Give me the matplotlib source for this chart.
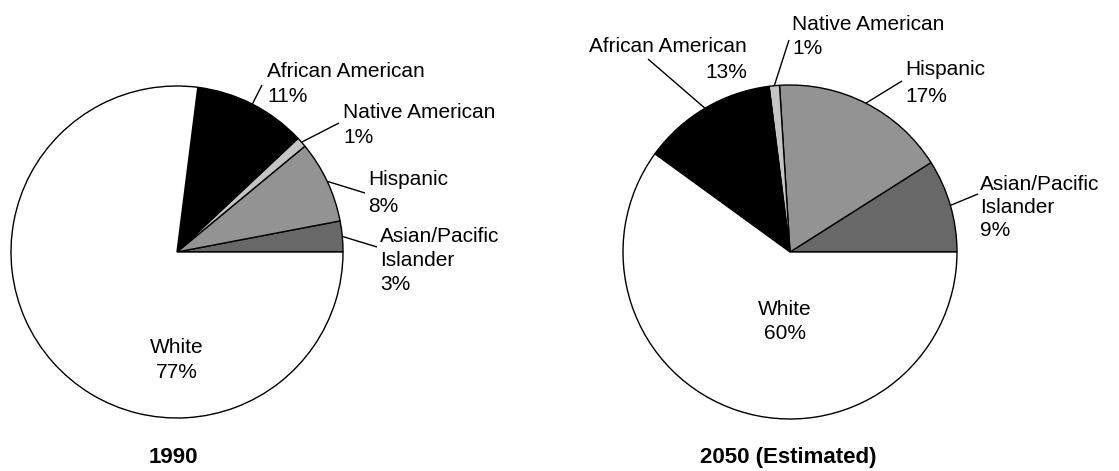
import numpy as np
import matplotlib
matplotlib.use("Agg")
import matplotlib.pyplot as plt

# ---------------- data ----------------
groups = ["Asian/Pacific\nIslander", "Hispanic", "Native American", "African American", "White"]
share_1990 = [3, 8, 1, 11, 77]
share_2050 = [9, 17, 1, 13, 60]
titles = ["1990", "2050 (Estimated)"]
colors = ["#686868", "#939393", "#c4c4c4", "#000000", "#ffffff"]

# ---------------- layout (pixel space, y down) ----------------
W, H = 1119, 471
fig = plt.figure(figsize=(W / 100, H / 100), dpi=100)
ax = fig.add_axes([0, 0, 1, 1])

def Y(py):
    return H - py

LABEL_FONT = dict(family="Liberation Sans", size=15)
TITLE_FONT = dict(family="Liberation Sans", size=16, weight="bold")
CAP = 15  # cap height in px

pies = [
    dict(values=share_1990, center=(177, 252), radius=166, title=titles[0], title_x=173,
         labels=[
             # (x, first cap top, pitch, ha, leader end)
             dict(x=380, top=227, pitch=24, ha="left", end=(377, 247)),
             dict(x=368, top=170, pitch=27, ha="left", end=(365, 193)),
             dict(x=343, top=103, pitch=25, ha="left", end=(339, 123)),
             dict(x=267, top=62, pitch=25, ha="left", end=(262, 85)),
             dict(x=177, top=338, pitch=25, ha="center", end=None),
         ]),
    dict(values=share_2050, center=(790, 252), radius=167, title=titles[1], title_x=788,
         labels=[
             dict(x=980, top=175, pitch=23, ha="left", end=(978, 194)),
             dict(x=905, top=60, pitch=27, ha="left", end=(902, 81)),
             dict(x=792, top=15, pitch=24, ha="left", end=(789, 40)),
             dict(x=747, top=37, pitch=26, ha="right", end=(648, 59)),
             dict(x=785, top=300, pitch=24, ha="center", end=None),
         ]),
]

for p in pies:
    cx, cy = p["center"]
    r = p["radius"]
    wedges, _ = ax.pie(p["values"], colors=colors, startangle=0, counterclock=True,
                       center=(cx, Y(cy)), radius=r,
                       wedgeprops=dict(edgecolor="black", linewidth=1.0))
    total = sum(p["values"])
    for w, name, val, lab in zip(wedges, groups, p["values"], p["labels"]):
        lines = (name + "\n" + f"{val}%").split("\n")
        for i, line in enumerate(lines):
            base = lab["top"] + CAP + i * lab["pitch"]
            ax.text(lab["x"], Y(base), line, ha=lab["ha"], va="baseline", **LABEL_FONT)
        if lab["end"] is not None:
            mid = np.deg2rad((w.theta1 + w.theta2) / 2)
            sx, sy = cx + r * np.cos(mid), Y(cy) + r * np.sin(mid)
            ex, ey = lab["end"]
            ax.plot([sx, ex], [sy, Y(ey)], color="black", lw=1.0, solid_capstyle="butt")
    ax.text(p["title_x"], Y(463), p["title"], ha="center", va="baseline", **TITLE_FONT)

ax.set_xlim(0, W)
ax.set_ylim(0, H)
ax.set_aspect("equal")
ax.axis("off")

fig.savefig("out.png", dpi=100, facecolor="white")
